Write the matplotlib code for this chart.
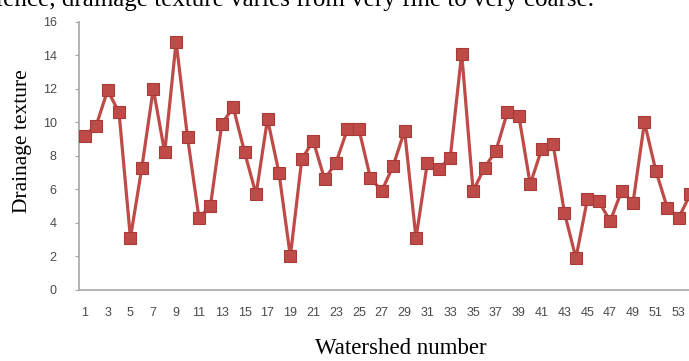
import matplotlib
matplotlib.use("Agg")
import matplotlib.pyplot as plt
import numpy as np

# drainage texture per watershed
watershed = np.arange(1, 55)
texture = [9.2, 9.8, 11.9, 10.6, 3.1, 7.3, 12.0, 8.2, 14.8, 9.1,
           4.3, 5.0, 9.9, 10.9, 8.2, 5.7, 10.2, 7.0, 2.0, 7.8,
           8.9, 6.6, 7.6, 9.6, 9.6, 6.7, 5.9, 7.4, 9.5, 3.1,
           7.6, 7.2, 7.9, 14.1, 5.9, 7.3, 8.3, 10.6, 10.4, 6.3,
           8.4, 8.7, 4.6, 1.9, 5.4, 5.3, 4.1, 5.9, 5.2, 10.0,
           7.1, 4.9, 4.3, 5.7]
xticks = watershed[::2]
yticks = np.arange(0, 17, 2)

fig = plt.figure(figsize=(6.89, 3.61), dpi=100)
ax = fig.add_axes([0.1147, 0.1967, 0.8853, 0.7433])

red = "#BE4B48"
ax.plot(watershed, texture, color=red, lw=2.3, marker="s", ms=8,
        mfc=red, mec="#A83A38", mew=0.8, clip_on=False, zorder=3)

ax.set_xlim(0.5, 53.9)
ax.set_ylim(0, 16)
ax.set_xticks(xticks)
ax.set_xticklabels([str(v) for v in xticks])
ax.set_yticks(yticks)

for s in ("top", "right"):
    ax.spines[s].set_visible(False)
for s in ("left", "bottom"):
    ax.spines[s].set_color("#A6A6A6")
    ax.spines[s].set_linewidth(1.2)

ax.tick_params(axis="x", length=0, pad=12, labelsize=9, labelcolor="#4A4A4A")
ax.tick_params(axis="y", length=3, color="#A6A6A6", pad=13, labelsize=9,
               labelcolor="#4A4A4A")
for lbl in ax.get_xticklabels() + ax.get_yticklabels():
    lbl.set_family("Liberation Sans")

fig.text(0.033, 0.61, "Drainage texture", rotation=90, ha="center", va="center",
         family="Liberation Serif", fontsize=15.5)
fig.text(0.582, 0.036, "Watershed number", ha="center", va="center",
         family="Liberation Serif", fontsize=16.5)

# sentence from the surrounding page, cut by the top edge
fig.text(-0.022, 0.983, "Hence, drainage texture varies from very fine to very coarse.",
         ha="left", va="baseline", family="Liberation Serif", fontsize=18)

fig.savefig("out.png", dpi=100)
